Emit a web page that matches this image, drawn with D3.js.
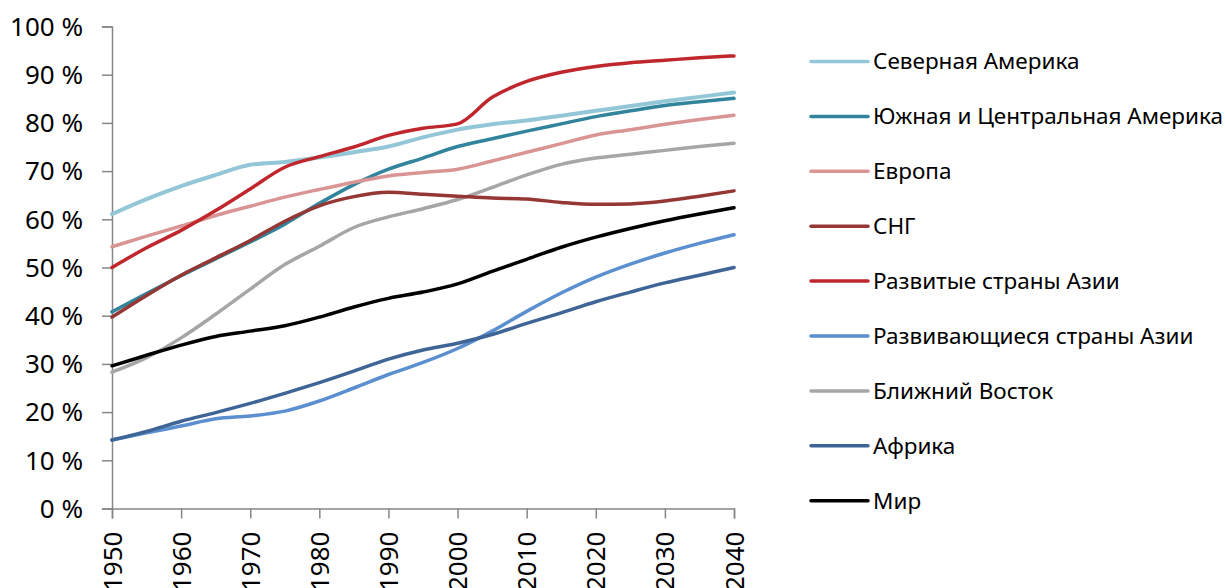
<!DOCTYPE html>
<html><head><meta charset="utf-8">
<script src="https://cdn.jsdelivr.net/npm/d3@7"></script>
<style>
html,body{margin:0;padding:0;background:#fff;}
svg{display:block;font-family:"Noto Sans",sans-serif;}
</style></head>
<body><svg id="chart" width="1225" height="588"></svg>
<script>
const years = [1950,1955,1960,1965,1970,1975,1980,1985,1990,1995,2000,2005,2010,2015,2020,2025,2030,2035,2040];
const xTicks = [1950,1960,1970,1980,1990,2000,2010,2020,2030,2040];
const yTicks = [0,10,20,30,40,50,60,70,80,90,100];

const seriesNames = ["Северная Америка","Южная и Центральная Америка","Европа","СНГ","Развитые страны Азии","Развивающиеся страны Азии","Ближний Восток","Африка","Мир"];
const seriesColors = ["#93c6d6","#31849b","#d99594","#953735","#c0272d","#5b8fd0","#a6a6a6","#3f6496","#000000"];

const northAmerica = [61.1,64.2,66.9,69.2,71.3,71.9,72.8,73.9,75.1,77.0,78.6,79.7,80.5,81.5,82.5,83.5,84.5,85.4,86.3];
const southCentralAmerica = [40.8,44.6,48.3,51.8,55.3,59.0,63.3,67.2,70.4,72.7,75.1,76.7,78.3,79.8,81.3,82.5,83.6,84.4,85.1];
const europe = [54.3,56.5,58.6,60.8,62.7,64.6,66.2,67.7,69.0,69.7,70.4,72.1,73.9,75.7,77.5,78.6,79.7,80.7,81.6];
const cis = [39.7,44.2,48.4,52.0,55.6,59.6,62.8,64.7,65.6,65.2,64.8,64.4,64.2,63.5,63.1,63.2,63.8,64.8,65.9];
const developedAsia = [50.0,54.1,57.7,61.8,66.3,70.8,73.0,75.0,77.4,78.9,79.8,85.3,88.6,90.5,91.7,92.5,93.0,93.5,93.9];
const developingAsia = [14.2,15.7,17.1,18.6,19.2,20.2,22.3,25.0,27.8,30.3,33.2,36.8,40.9,44.7,48.0,50.7,53.0,55.0,56.8];
const middleEast = [28.3,31.3,35.4,40.3,45.5,50.6,54.4,58.3,60.5,62.2,64.1,66.6,69.2,71.4,72.7,73.5,74.3,75.1,75.8];
const africa = [14.2,16.0,18.1,19.9,21.8,23.9,26.1,28.5,31.0,32.9,34.3,36.1,38.4,40.6,42.9,44.9,46.8,48.4,50.0];
const world = [29.6,31.8,33.9,35.7,36.8,37.9,39.7,41.8,43.6,44.9,46.6,49.2,51.7,54.2,56.3,58.1,59.7,61.1,62.4];

const seriesValues = [northAmerica,southCentralAmerica,europe,cis,developedAsia,developingAsia,middleEast,africa,world];

const svg = d3.select("#chart");
const x = d3.scaleLinear().domain([1950,2040]).range([112,734]);
const y = d3.scaleLinear().domain([0,100]).range([508.5,26.5]);

// axes
const yAxis = svg.append("g").attr("transform","translate(112,0)")
  .call(d3.axisLeft(y).tickValues(yTicks).tickSize(10).tickPadding(4).tickFormat(d=>d+" %"));
const xAxis = svg.append("g").attr("transform","translate(0,508.5)")
  .call(d3.axisBottom(x).tickValues(xTicks).tickSize(10).tickFormat(d3.format("d")));
[yAxis,xAxis].forEach(g=>{
  g.selectAll("path.domain").attr("stroke","#868686").attr("stroke-width",1.5);
  g.selectAll(".tick line").attr("stroke","#868686").attr("stroke-width",1.5);
  g.selectAll(".tick text").attr("fill","#000").style("font-size","26px").style("font-family","'Noto Sans',sans-serif");
});
yAxis.selectAll(".tick text").attr("x",-29).attr("dy","0.34em");
xAxis.selectAll(".tick text")
  .attr("transform","rotate(-90)")
  .attr("text-anchor","end")
  .attr("x",-23).attr("y",0).attr("dy","0.35em");

// lines
const line = d3.line().x((d,i)=>x(years[i])).y(d=>y(d)).curve(d3.curveMonotoneX);
const order = [6,1,2,0,3,4,5,7,8];
order.forEach(k=>{
  svg.append("path").datum(seriesValues[k])
    .attr("fill","none").attr("stroke",seriesColors[k])
    .attr("stroke-width", k===0 ? 4 : 3.5)
    .attr("stroke-linejoin","round").attr("stroke-linecap","round")
    .attr("d",line);
});

// legend
const leg = svg.append("g");
seriesNames.forEach((n,i)=>{
  const yy = 61.5 + i*54.9;
  leg.append("line").attr("x1",811).attr("x2",868).attr("y1",yy).attr("y2",yy)
    .attr("stroke",seriesColors[i]).attr("stroke-width",3.5).attr("stroke-linecap","round");
  leg.append("text").attr("x",873).attr("y",yy).attr("dy","0.35em")
    .style("font-size","22.5px").attr("fill","#000").text(n);
});
</script></body></html>
